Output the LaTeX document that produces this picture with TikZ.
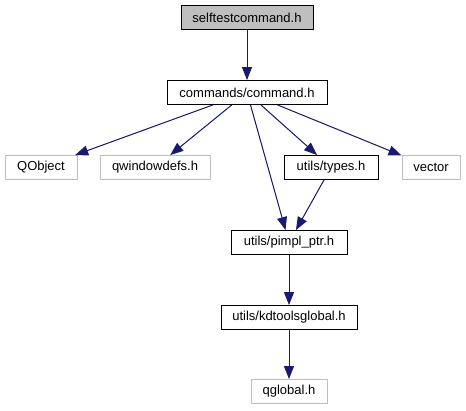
\documentclass[tikz,border=0pt]{standalone}
\usepackage{fontspec}
\setmainfont{Liberation Sans}
\usetikzlibrary{arrows.meta}
\definecolor{edgeblue}{HTML}{191970}
\definecolor{greyline}{HTML}{BFBFBF}
\begin{document}
\begin{tikzpicture}[x=1pt,y=-1pt,
  box/.style={draw=black,line width=0.9pt,minimum height=24pt,inner sep=0pt,font=\fontsize{13}{15}\selectfont},
  extbox/.style={box,draw=greyline},
  topbox/.style={box,fill=greyline},
  dep/.style={draw=edgeblue,line width=1pt,-{Triangle[length=13pt,width=10pt]},fill=edgeblue}]
\useasboundingbox (0,0) rectangle (466,411);
\node[topbox,minimum width=132pt] (self) at (247,17.5) {selftestcommand.h};
\node[box,minimum width=160pt] (cmd) at (247,92.5) {commands/command.h};
\node[extbox,minimum width=72pt] (qobj) at (41,167.5) {QObject};
\node[extbox,minimum width=110pt] (qwin) at (155,167.5) {qwindowdefs.h};
\node[box,minimum width=94pt] (types) at (331,167.5) {utils/types.h};
\node[extbox,minimum width=58pt] (vec) at (431,167.5) {vector};
\node[box,minimum width=116pt] (pimpl) at (289,242.5) {utils/pimpl\_ptr.h};
\node[box,minimum width=136pt] (kdt) at (289,317.5) {utils/kdtoolsglobal.h};
\node[extbox,minimum width=76pt] (qglob) at (289,391.5) {qglobal.h};
\draw[dep] (self) -- (cmd);
\draw[dep] (cmd) -- (qobj);
\draw[dep] (cmd) -- (qwin);
\draw[dep] (cmd) -- (pimpl);
\draw[dep] (cmd) -- (types);
\draw[dep] (cmd) -- (vec);
\draw[dep] (types) -- (pimpl);
\draw[dep] (pimpl) -- (kdt);
\draw[dep] (kdt) -- (qglob);
\end{tikzpicture}
\end{document}
